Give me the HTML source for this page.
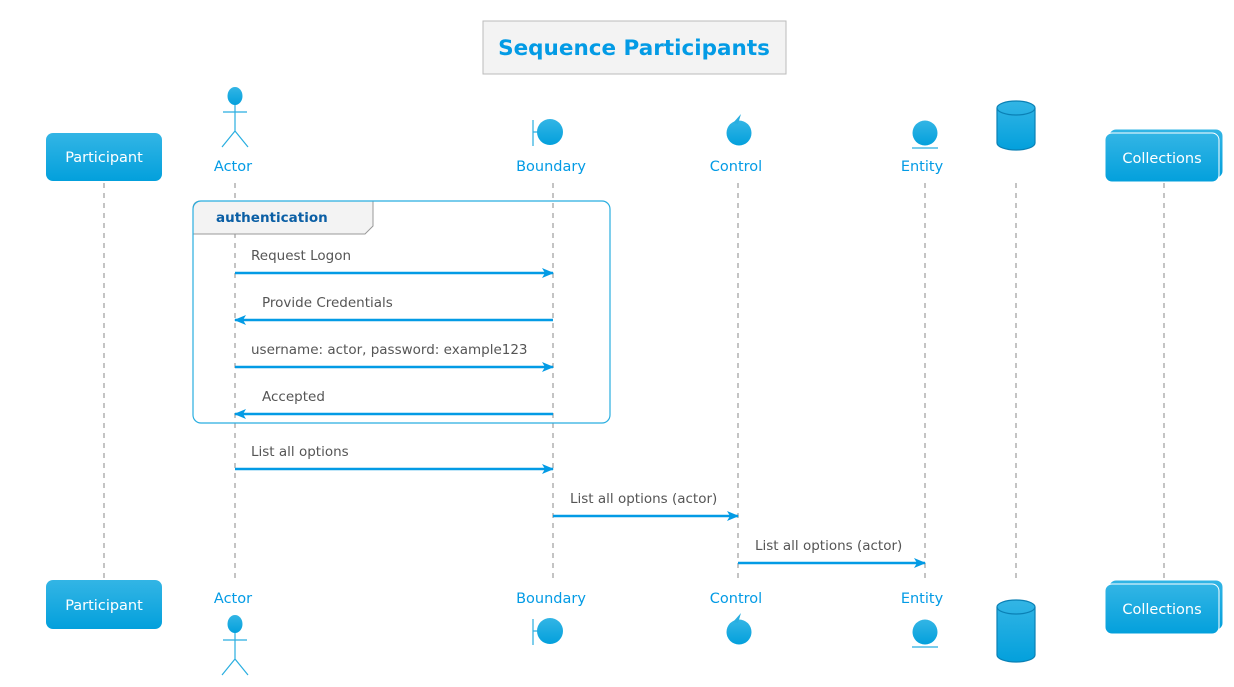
<!DOCTYPE html>
<html><head><meta charset="utf-8"><style>
html,body{margin:0;padding:0;background:#fff;width:1234px;height:687px;overflow:hidden}
text{font-family:"DejaVu Sans","Liberation Sans",sans-serif}
</style></head><body>
<svg width="1234" height="687" viewBox="0 0 1234 687" xmlns="http://www.w3.org/2000/svg">
<defs>
<linearGradient id="g" x1="0" y1="0" x2="0" y2="1"><stop offset="0" stop-color="#33b5e5"/><stop offset="1" stop-color="#03a0dc"/></linearGradient>
<marker id="ar" viewBox="0 0 12 10" refX="11" refY="5" markerWidth="12" markerHeight="10" markerUnits="userSpaceOnUse" orient="auto"><path d="M0,0 L12,5 L0,10 L3,5 Z" fill="#039be5"/></marker>
</defs>
<!-- title -->
<rect x="483" y="21" width="303" height="53" fill="#f3f3f3" stroke="#bbb"/>
<text x="634" y="55" text-anchor="middle" font-size="21.5" font-weight="bold" fill="#039be5">Sequence Participants</text>
<!-- lifelines -->
<g stroke="#c4c4c4" stroke-width="2" stroke-dasharray="5,5">
<line x1="104" y1="183" x2="104" y2="580"/><line x1="235" y1="183" x2="235" y2="580"/><line x1="553" y1="183" x2="553" y2="580"/><line x1="738" y1="183" x2="738" y2="580"/><line x1="925" y1="183" x2="925" y2="580"/><line x1="1016" y1="183" x2="1016" y2="580"/><line x1="1164" y1="183" x2="1164" y2="580"/>
</g>
<!-- group -->
<path d="M193,209 Q193,201 201,201 L373,201 L373,226 L365,234 L193,234 Z" fill="#f3f3f3" stroke="#999" stroke-width="1"/>
<rect x="193" y="201" width="417" height="222" rx="8" fill="none" stroke="#29aee0" stroke-width="1.2"/>
<text x="216" y="222" font-size="13.5" font-weight="bold" fill="#0b5fa5">authentication</text>
<!-- top participants -->
<rect x="46" y="133" width="116" height="48" rx="7" fill="url(#g)"/>
<text x="104" y="162" text-anchor="middle" font-size="14.5" fill="#fff">Participant</text>
<rect x="46" y="580" width="116" height="49" rx="7" fill="url(#g)"/>
<text x="104" y="610" text-anchor="middle" font-size="14.5" fill="#fff">Participant</text>
<!-- actor -->
<g stroke="#29aee0" stroke-width="1.2" fill="none">
<path d="M235,104 V131 M223,112 H247 M235,131 L222,147 M235,131 L248,147"/>
<path d="M235,632 V659 M223,640 H247 M235,659 L222,675 M235,659 L248,675"/>
</g>
<ellipse cx="235" cy="96" rx="7.5" ry="9" fill="url(#g)"/>
<ellipse cx="235" cy="624" rx="7.5" ry="9" fill="url(#g)"/>
<g font-size="14.5" fill="#039be5" text-anchor="middle">
<text x="233" y="171">Actor</text><text x="233" y="603">Actor</text>
<text x="551" y="171">Boundary</text><text x="551" y="603">Boundary</text>
<text x="736" y="171">Control</text><text x="736" y="603">Control</text>
<text x="922" y="171">Entity</text><text x="922" y="603">Entity</text>
</g>
<!-- boundary -->
<g stroke="#29aee0" stroke-width="1.2"><path d="M533,120 V146 M533,132 H538"/><path d="M533,619 V645 M533,631 H538"/></g>
<circle cx="550" cy="132" r="13" fill="url(#g)"/>
<circle cx="550" cy="631" r="13" fill="url(#g)"/>
<!-- control -->
<circle cx="739" cy="133" r="12.5" fill="url(#g)"/><path d="M733,123 L741,114 L738,124 Z" fill="#29aee0"/>
<circle cx="739" cy="632" r="12.5" fill="url(#g)"/><path d="M733,622 L741,613 L738,623 Z" fill="#29aee0"/>
<!-- entity -->
<circle cx="925" cy="133" r="12.5" fill="url(#g)"/><line x1="912" y1="148" x2="938" y2="148" stroke="#29aee0" stroke-width="1.2"/>
<circle cx="925" cy="632" r="12.5" fill="url(#g)"/><line x1="912" y1="647" x2="938" y2="647" stroke="#29aee0" stroke-width="1.2"/>
<!-- database -->
<path d="M997,108 V143 A19,7 0 0 0 1035,143 V108 A19,7 0 0 0 997,108 Z" fill="url(#g)" stroke="#0a80b5" stroke-width="1.2"/>
<path d="M997,108 A19,7 0 0 0 1035,108" fill="none" stroke="#0a80b5" stroke-width="1.2"/>
<path d="M997,607 V655 A19,7 0 0 0 1035,655 V607 A19,7 0 0 0 997,607 Z" fill="url(#g)" stroke="#0a80b5" stroke-width="1.2"/>
<path d="M997,607 A19,7 0 0 0 1035,607" fill="none" stroke="#0a80b5" stroke-width="1.2"/>
<!-- collections -->
<rect x="1109" y="129" width="114" height="49" rx="7" fill="url(#g)" stroke="#fff" stroke-width="1"/>
<rect x="1105" y="133" width="114" height="49" rx="7" fill="url(#g)" stroke="#fff" stroke-width="1"/>
<text x="1162" y="163" text-anchor="middle" font-size="14.5" fill="#fff">Collections</text>
<rect x="1109" y="580" width="114" height="50" rx="7" fill="url(#g)" stroke="#fff" stroke-width="1"/>
<rect x="1105" y="584" width="114" height="50" rx="7" fill="url(#g)" stroke="#fff" stroke-width="1"/>
<text x="1162" y="614" text-anchor="middle" font-size="14.5" fill="#fff">Collections</text>
<!-- messages -->
<g stroke="#039be5" stroke-width="2.5" marker-end="url(#ar)">
<line x1="235" y1="273" x2="553" y2="273"/>
<line x1="553" y1="320" x2="235" y2="320"/>
<line x1="235" y1="367" x2="553" y2="367"/>
<line x1="553" y1="414" x2="235" y2="414"/>
<line x1="235" y1="469" x2="553" y2="469"/>
<line x1="553" y1="516" x2="738" y2="516"/>
<line x1="738" y1="563" x2="925" y2="563"/>
</g>
<g font-size="13.5" fill="#555">
<text x="251" y="260">Request Logon</text>
<text x="262" y="307">Provide Credentials</text>
<text x="251" y="354">username: actor, password: example123</text>
<text x="262" y="401">Accepted</text>
<text x="251" y="456">List all options</text>
<text x="570" y="503">List all options (actor)</text>
<text x="755" y="550">List all options (actor)</text>
</g>
</svg>
</body></html>
